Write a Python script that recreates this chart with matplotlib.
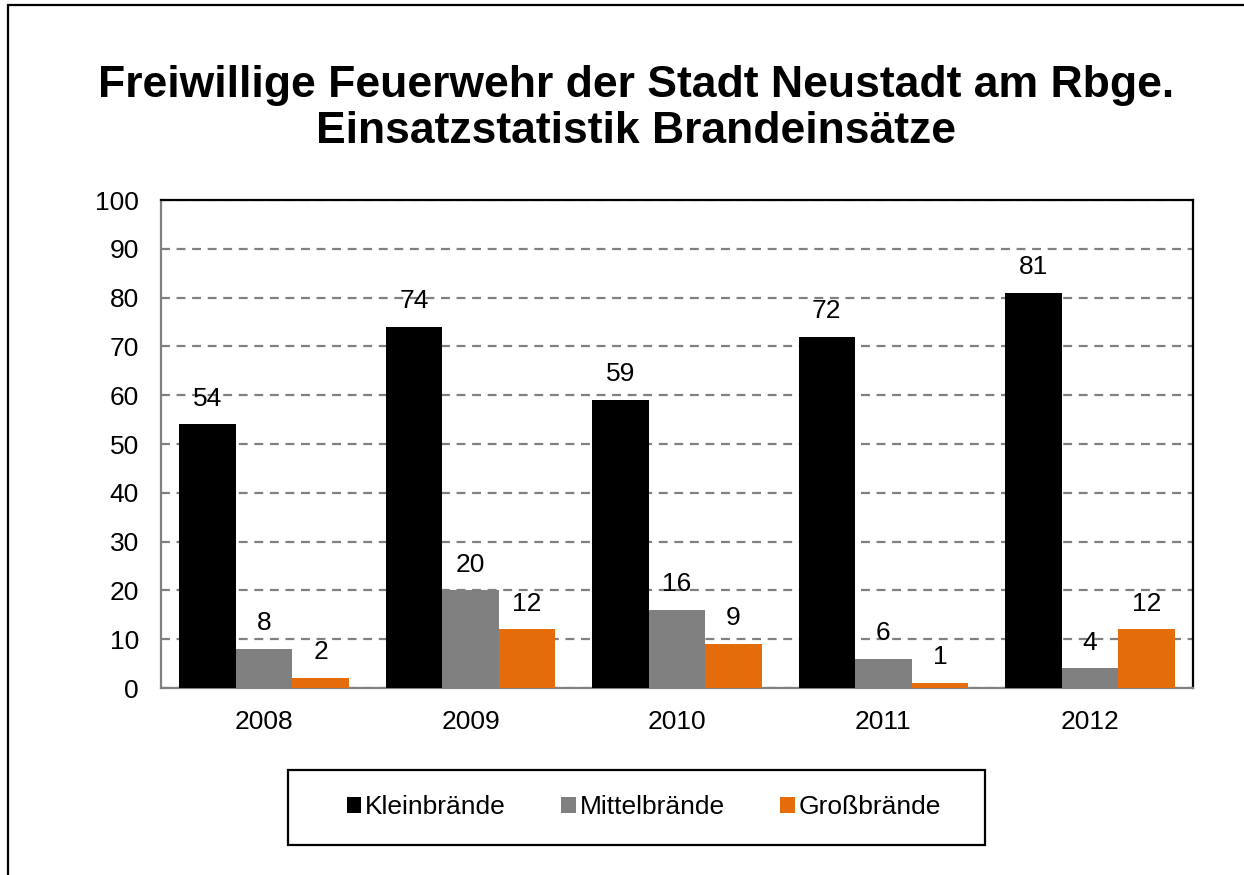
import matplotlib.pyplot as plt
import numpy as np
from matplotlib.patches import Rectangle

plt.rcParams['font.family'] = ['Liberation Sans', 'DejaVu Sans']

years = ["2008", "2009", "2010", "2011", "2012"]
klein = [54, 74, 59, 72, 81]
mittel = [8, 20, 16, 6, 4]
gross = [2, 12, 9, 1, 12]

series = [("Kleinbrände", klein, "#000000"),
          ("Mittelbrände", mittel, "#808080"),
          ("Großbrände", gross, "#E46C0A")]

fig = plt.figure(figsize=(12.44, 8.75), dpi=100)
ax = fig.add_axes([0.1294, 0.2137, 0.8296, 0.5577])

x = np.arange(len(years))
w = 0.274
for i, (name, vals, col) in enumerate(series):
    bars = ax.bar(x + (i - 1) * w, vals, w, color=col, label=name, zorder=3)
    for b, v in zip(bars, vals):
        ax.annotate(str(v), (b.get_x() + b.get_width() / 2, v),
                    xytext=(0, 10), textcoords="offset points",
                    ha="center", va="bottom", fontsize=19)

ax.set_xlim(-0.5, len(years) - 0.5)
ax.set_ylim(0, 100)
ax.set_yticks(range(0, 101, 10))
ax.set_xticks(x)
ax.set_xticklabels(years)
ax.tick_params(axis="both", length=0, labelsize=19)
ax.tick_params(axis="x", pad=16)
ax.tick_params(axis="y", pad=16)
ax.yaxis.grid(True, color="#808080", linestyle=(0, (4, 3)), linewidth=1.6, zorder=0)
ax.set_axisbelow(True)
for s in ["left", "bottom"]:
    ax.spines[s].set_color("#808080")
    ax.spines[s].set_linewidth(1.6)
for s in ["top", "right"]:
    ax.spines[s].set_color("#000000")
    ax.spines[s].set_linewidth(1.6)

fig.text(0.511, 0.876, "Freiwillige Feuerwehr der Stadt Neustadt am Rbge.\nEinsatzstatistik Brandeinsätze",
         ha="center", va="center", fontsize=32, fontweight="bold", linespacing=1.15)

# legend box
lx, ly, lw, lh = 288 / 1244, 1 - 845 / 875, 697 / 1244, 75 / 875
fig.patches.append(Rectangle((lx, ly), lw, lh, transform=fig.transFigure,
                             fill=False, edgecolor="black", linewidth=1.6))
fig.legend(loc="center", bbox_to_anchor=(lx + lw / 2 + 0.006, ly + lh / 2), ncol=3,
           frameon=False, fontsize=19, handlelength=0.55, handleheight=0.55,
           handletextpad=0.15, columnspacing=2.1)

# outer chart border
fig.patches.append(Rectangle((8 / 1244, -0.1), 1.2, 1 - 5 / 875 + 0.1,
                             transform=fig.transFigure, fill=False,
                             edgecolor="black", linewidth=1.6))

fig.savefig("out.png", dpi=100)
